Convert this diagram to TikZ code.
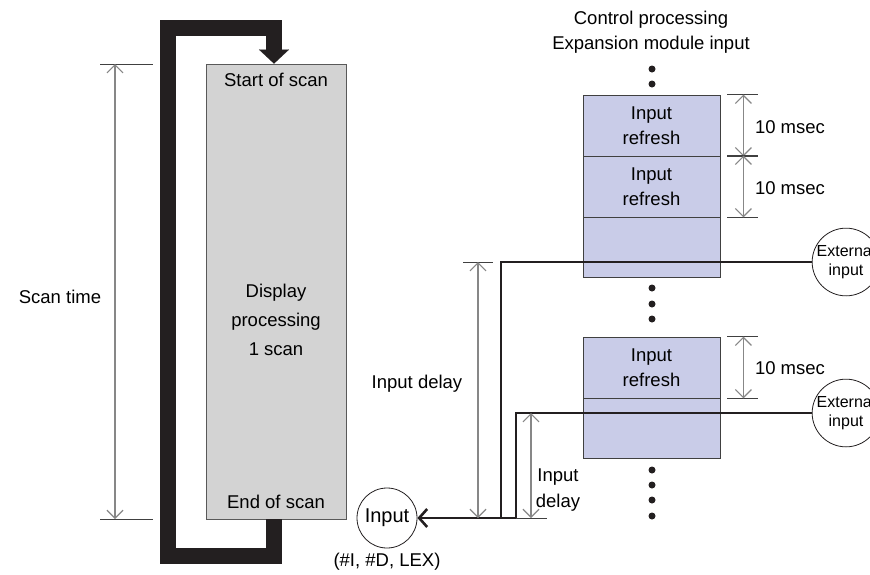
\documentclass[tikz,border=0pt]{standalone}
\usepackage{fontspec}
\setmainfont{Liberation Sans}
\usetikzlibrary{arrows.meta}
\definecolor{scangray}{RGB}{211,211,211}
\definecolor{refblue}{RGB}{201,204,232}
\definecolor{linedark}{RGB}{35,31,32}
\definecolor{dimgray}{RGB}{135,135,135}

\begin{document}
\begin{tikzpicture}[x=1pt,y=-1pt,
  every node/.style={font=\fontsize{18.5}{25}\selectfont,inner sep=0pt},
  scanbox/.style={draw=black!65,fill=scangray,line width=0.8pt,minimum width=140pt,minimum height=455pt},
  cell/.style={draw=black!75,fill=refblue,line width=0.8pt,minimum width=137pt,align=center},
  loopband/.style={draw=linedark,line width=16pt,-{Triangle[length=14pt,width=30pt,line width=0.1pt]}},
  sigline/.style={draw=linedark,line width=2.6pt},
  dimline/.style={draw=dimgray,line width=1.2pt,{Straight Barb[length=8pt,width=16pt]}-{Straight Barb[length=8pt,width=16pt]}},
  tick/.style={draw=black!75,line width=0.8pt},
  extin/.style={circle,draw=linedark,fill=white,line width=0.8pt,minimum size=60pt,align=center,font=\fontsize{16}{19}\selectfont},
  dot/.style={circle,fill=linedark,minimum size=7pt}]
  \useasboundingbox (0,0) rectangle (870,574);
  \clip (0,0) rectangle (870,574);

  % scan loop
  \node[scanbox] (scan) at (276,291.5) {};
  \node (start) at (276,80) {Start of scan};
  \node (end) at (276,502) {End of scan};
  \node[align=center,font=\fontsize{18.5}{29}\selectfont] (disp) at (276,320) {Display\\processing\\1 scan};
  \draw[loopband] ([xshift=-2pt]scan.south) |- (168,556) |- (274,28) -- ([xshift=-2pt]scan.north);

  % scan time
  \coordinate (sttop) at (115,64);
  \coordinate (stbot) at (115,519);
  \draw[tick] ([xshift=-15pt]sttop) -- ++(53,0);
  \draw[tick] ([xshift=-15pt]stbot) -- ++(53,0);
  \draw[dimline] (sttop) -- (stbot);
  \node (stlab) at (60,297) {Scan time};

  % expansion module input
  \node (ctrl) at (651,20) {Control processing};
  \node (expin) at (651,45) {Expansion module input};
  \foreach \y in {69,84,288,304,319,470,485,500,516}
    \node[dot] at (652,\y) {};

  \node[cell,minimum height=61pt] (ref1) at (651.5,125.5) {Input\\refresh};
  \node[cell,minimum height=61pt] (ref2) at (651.5,186.5) {Input\\refresh};
  \node[cell,minimum height=60pt] (blank1) at (651.5,247) {};
  \node[cell,minimum height=61pt] (ref3) at (651.5,367.5) {Input\\refresh};
  \node[cell,minimum height=60pt] (blank2) at (651.5,428) {};

  % 10 msec
  \foreach \c in {ref1,ref2,ref3} {
    \draw[tick] ([xshift=7pt]\c.north east) -- ++(31,0);
    \draw[tick] ([xshift=7pt]\c.south east) -- ++(31,0);
    \draw[dimline] ([xshift=23pt]\c.north east) -- ([xshift=23pt]\c.south east);
  }
  \node (ms1) at (790,127) {10 msec};
  \node (ms2) at (790,188) {10 msec};
  \node (ms3) at (790,368) {10 msec};

  % inputs
  \node[extin] (ext1) at (846,262) {External\\input};
  \node[extin] (ext2) at (846,413) {External\\input};
  \node[extin,font=\fontsize{20}{24}\selectfont] (inp) at (387,518) {Input};
  \node (inlab) at (387,562) {(\#I, \#D, LEX)};
  \draw[sigline,-{Straight Barb[length=8pt,width=18pt]}] (ext1.west) -| (501,518) -- (inp.east);
  \draw[sigline] (ext2.west) -| (516,518) -- (501,518);

  % input delay
  \draw[tick] (463,262) -- (493,262);
  \draw[dimline] (478,262) -- (478,518);
  \node (dl1) at (417,384) {Input delay};
  \draw[tick] (516,518) -- (547,518);
  \draw[dimline] (531,413) -- (531,518);
  \node[align=center,font=\fontsize{18.5}{26}\selectfont] (dl2) at (558,490) {Input\\delay};
\end{tikzpicture}
\end{document}
